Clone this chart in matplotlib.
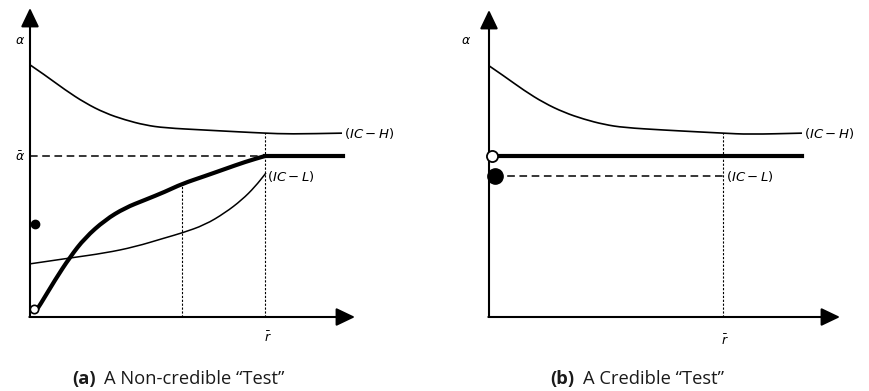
import matplotlib.pyplot as plt
from matplotlib.path import Path
from matplotlib.patches import PathPatch

# panel (a): curves in the (r, alpha) plane
upper_x = [0, 0.46, 1.08, 1.69, 2.31, 2.92, 3.54, 4.15, 5.38, 6.46, 7.23, 8.0, 9.6]
upper_y = [8.16, 7.83, 7.35, 6.93, 6.60, 6.38, 6.21, 6.12, 6.05, 5.99, 5.95, 5.92, 5.95]

lower_x = [0, 1.23, 2.31, 3.23, 4.15, 4.68, 5.38, 6.0, 6.52, 6.92, 7.26]
lower_y = [1.72, 1.91, 2.07, 2.27, 2.56, 2.72, 2.98, 3.37, 3.79, 4.21, 4.66]

thick_x = [0.2, 0.31, 0.77, 1.23, 1.69, 2.31, 2.92, 3.54, 4.15, 4.68, 5.38, 6.0, 6.62, 7.23]
thick_y = [0.22, 0.39, 1.20, 1.94, 2.56, 3.14, 3.53, 3.79, 4.05, 4.31, 4.56, 4.79, 5.02, 5.21]

alpha_bar = 5.21
r_bar = 7.23
r_mid = 4.68
flat_end = 9.63
dot_a = (0.15, 3.01)
open_a = (0.12, 0.26)

# panel (b)
upper_x_b = [0, 0.46, 1.08, 1.69, 2.31, 2.92, 3.54, 4.15, 5.38, 6.46, 7.2, 8.0, 9.63]
upper_y_b = [8.13, 7.80, 7.33, 6.93, 6.62, 6.40, 6.23, 6.13, 6.05, 5.99, 5.95, 5.91, 5.95]
flat_b = 5.21
flat_end_b = 9.63
dot_b = (0.18, 4.56)
open_b = (0.09, 5.21)
r_bar_b = 7.2

W, H = 870, 391
fig = plt.figure(figsize=(8.7, 3.91), dpi=100)


def make_axes(left, width, top, xmax, ymax):
    ax = fig.add_axes([left / W, (H - 317) / H, width / W, (317 - top) / H])
    ax.set_xlim(0, xmax)
    ax.set_ylim(0, ymax)
    ax.axis("off")
    arrow = dict(arrowstyle="-|>,head_length=1.15,head_width=0.55", lw=1.5,
                 color="black", shrinkA=0, shrinkB=0, mutation_scale=10)
    ax.annotate("", xy=(0, ymax), xytext=(0, 0), arrowprops=arrow, annotation_clip=False)
    ax.annotate("", xy=(xmax, 0), xytext=(-0.02, 0), arrowprops=arrow, annotation_clip=False)
    return ax


def smooth_curve(ax, xs, ys, lw):
    # quadratic Bezier through the points, using them as control points
    pts = list(zip(xs, ys))
    verts = [pts[0]]
    codes = [Path.MOVETO]
    for i in range(1, len(pts) - 1):
        mid = ((pts[i][0] + pts[i + 1][0]) / 2, (pts[i][1] + pts[i + 1][1]) / 2)
        verts += [pts[i], mid]
        codes += [Path.CURVE3, Path.CURVE3]
    verts.append(pts[-1])
    codes.append(Path.LINETO)
    ax.add_patch(PathPatch(Path(verts, codes), fill=False, lw=lw, ec="black",
                           capstyle="butt", clip_on=False))


lbl = dict(fontsize=9.5, va="center", color="black")
dotted = dict(color="black", lw=0.8, ls=(0, (2, 1.5)))

# ---- (a) ----
ax = make_axes(30, 325, 8, 10, 10)
smooth_curve(ax, upper_x, upper_y, 1.2)
smooth_curve(ax, lower_x, lower_y, 1.1)
smooth_curve(ax, thick_x, thick_y, 3)
ax.plot([r_bar, flat_end], [alpha_bar, alpha_bar], color="black", lw=3)
ax.plot([0, r_bar], [alpha_bar, alpha_bar], color="black", lw=1.1, ls=(0, (5, 3)))
ax.plot([r_mid, r_mid], [0, thick_y[thick_x.index(r_mid)]], **dotted)
ax.plot([r_bar, r_bar], [0, upper_y[upper_x.index(r_bar)]], **dotted)
ax.plot(*dot_a, "o", ms=6, color="black", clip_on=False)
ax.plot(*open_a, "o", ms=6, mfc="white", mec="black", mew=1.2, clip_on=False, zorder=5)
ax.text(-0.31, 8.96, r"$\alpha$", ha="center", fontsize=9, va="center")
ax.text(-0.31, 5.18, r"$\bar{\alpha}$", ha="center", fontsize=9, va="center")
ax.text(r_bar + 0.08, -0.68, r"$\bar{r}$", ha="center", fontsize=9, va="center")
ax.text(9.65, 5.93, r"$(IC-H)$", ha="left", **lbl)
ax.text(7.3, 4.55, r"$(IC-L)$", ha="left", **lbl)

# ---- (b) ----
bx = make_axes(489, 351, 10, 351 / 32.5, 307 / 30.9)
smooth_curve(bx, upper_x_b, upper_y_b, 1.2)
bx.plot([open_b[0], flat_end_b], [flat_b, flat_b], color="black", lw=3)
bx.plot([dot_b[0], r_bar_b], [dot_b[1], dot_b[1]], color="black", lw=1.1, ls=(0, (5, 3)))
bx.plot([r_bar_b, r_bar_b], [0, upper_y_b[upper_x_b.index(r_bar_b)]], **dotted)
bx.plot(*dot_b, "o", ms=11, color="black", clip_on=False, zorder=5)
bx.plot(*open_b, "o", ms=8, mfc="white", mec="black", mew=1.3, clip_on=False, zorder=5)
bx.text(-0.71, 8.96, r"$\alpha$", ha="center", fontsize=9, va="center")
bx.text(r_bar_b + 0.05, -0.78, r"$\bar{r}$", ha="center", fontsize=9, va="center")
bx.text(9.7, 5.93, r"$(IC-H)$", ha="left", **lbl)
bx.text(7.3, 4.56, r"$(IC-L)$", ha="left", **lbl)

# captions
cap = dict(fontsize=13.2, family="Open Sans", va="center", color="#1a1a1a")
fig.text(72 / W, 1 - 379 / H, "(a)", fontweight="bold", ha="left", **cap)
fig.text(104 / W, 1 - 379 / H, "A Non-credible \u201cTest\u201d", ha="left", **cap)
fig.text(550 / W, 1 - 379 / H, "(b)", fontweight="bold", ha="left", **cap)
fig.text(583 / W, 1 - 379 / H, "A Credible \u201cTest\u201d", ha="left", **cap)

fig.savefig("out.png", dpi=100)
